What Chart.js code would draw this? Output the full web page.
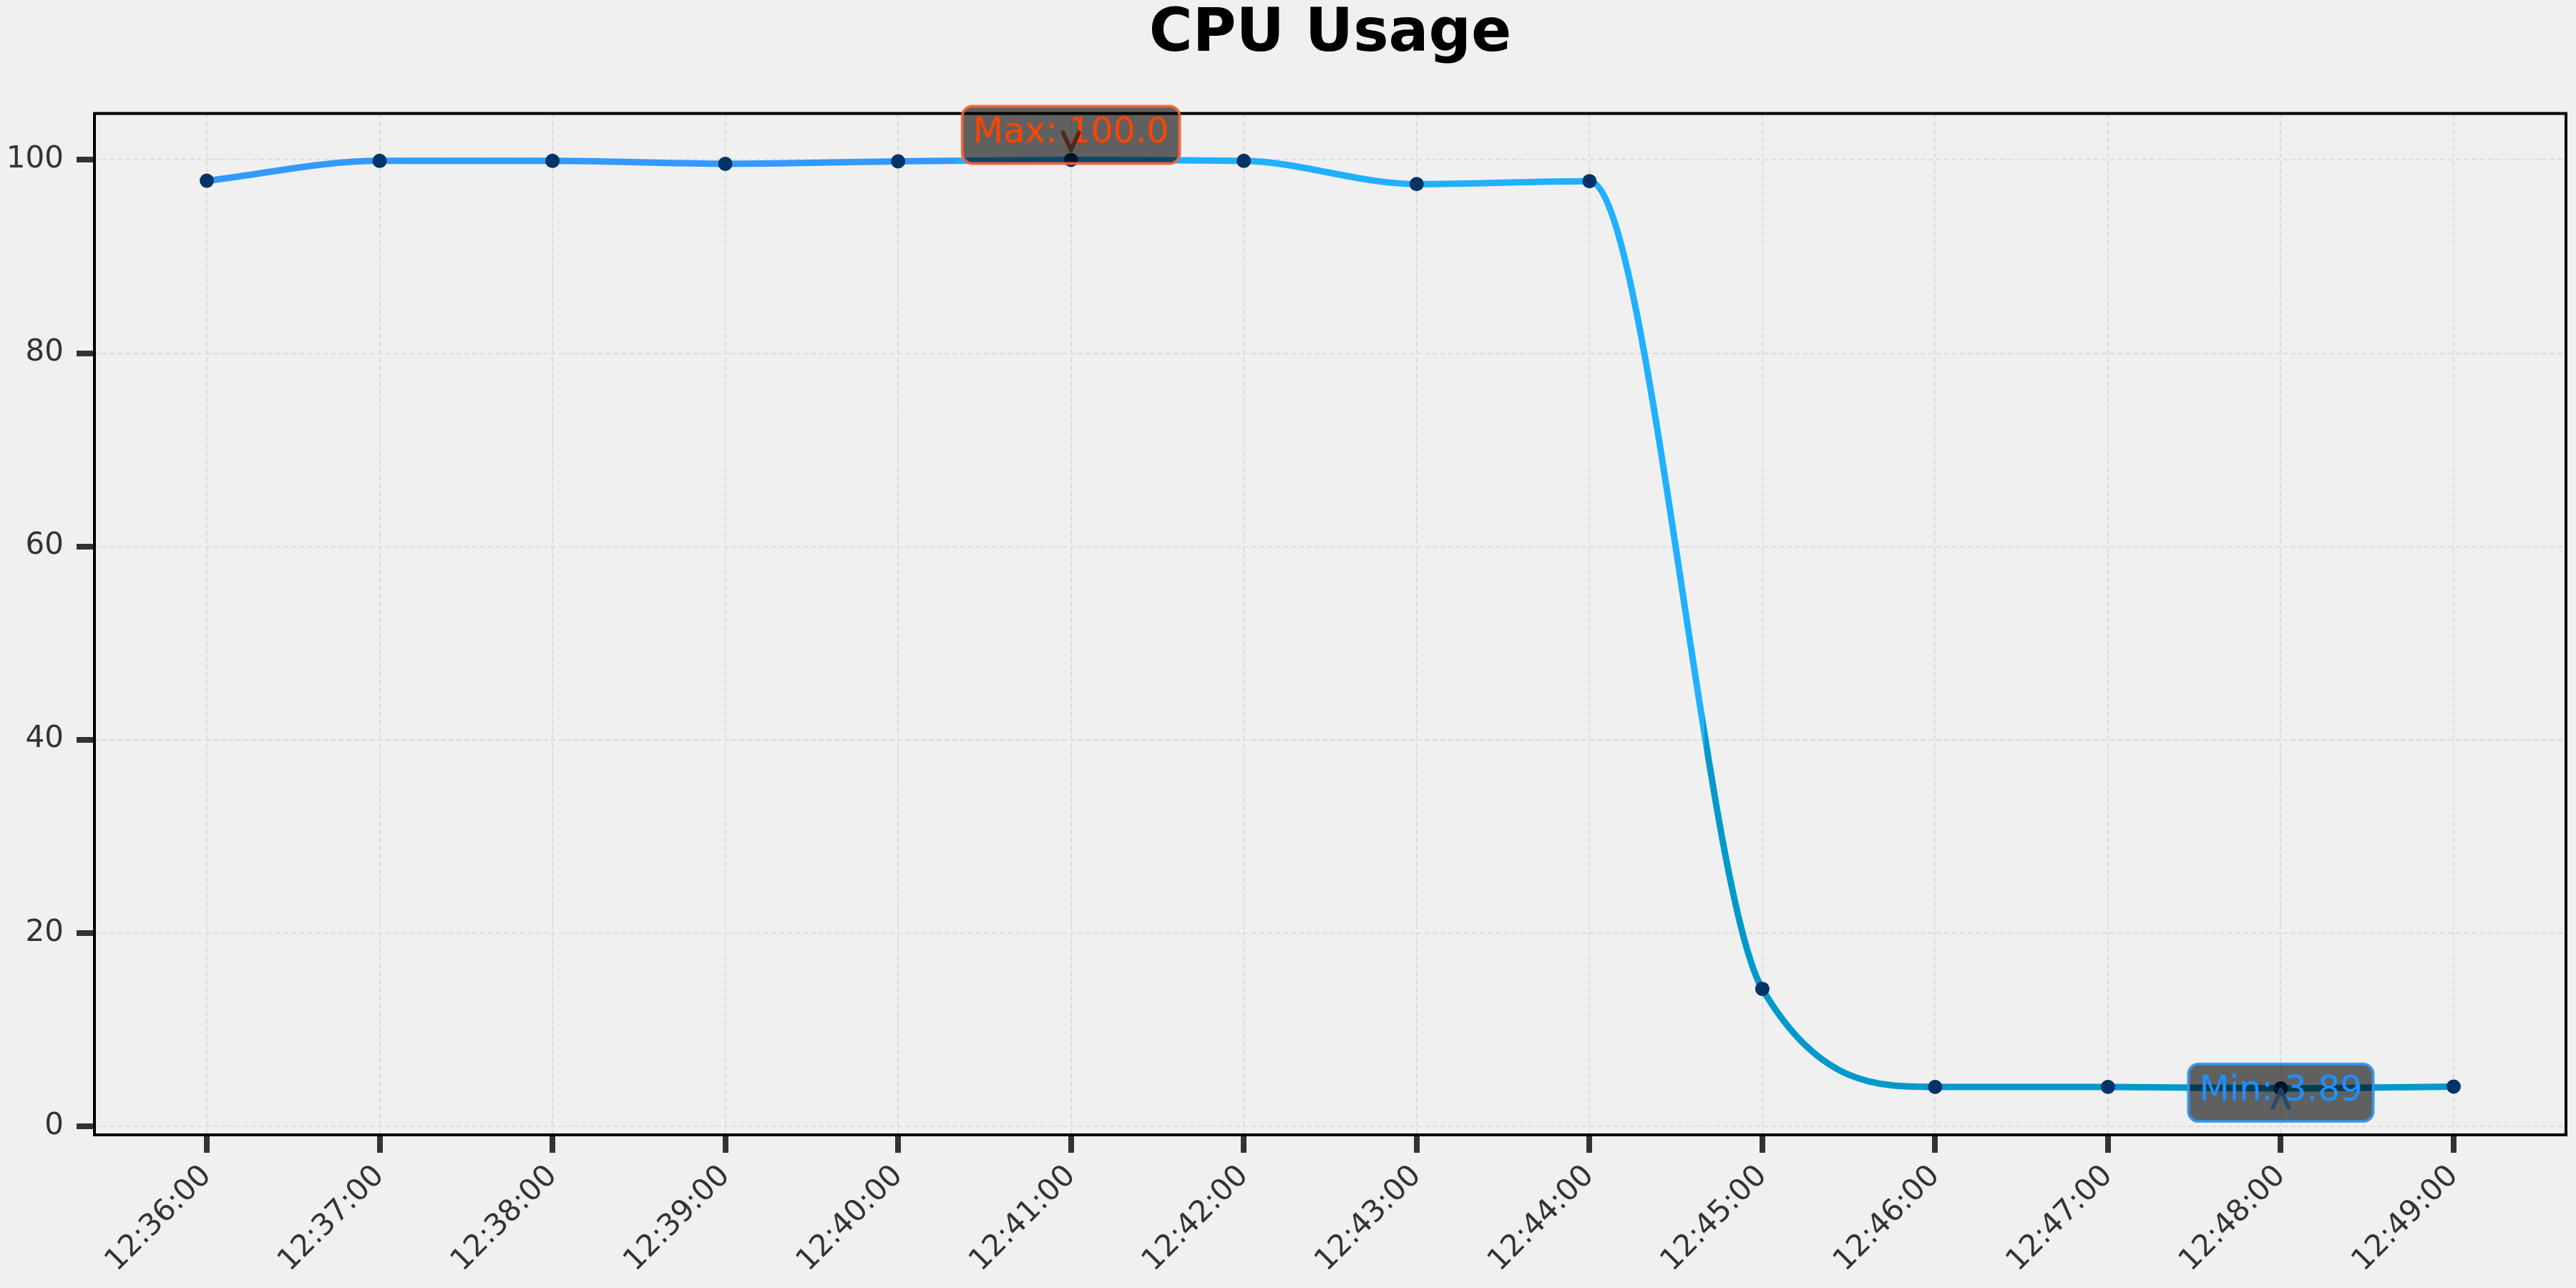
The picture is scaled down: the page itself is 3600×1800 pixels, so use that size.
<!DOCTYPE html>
<html>
<head>
<meta charset="utf-8">
<script src="https://cdn.jsdelivr.net/npm/chart.js@4.4.0/dist/chart.umd.min.js"></script>
<style>
  html, body { margin: 0; padding: 0; background: #f0f0f0; }
  canvas { display: block; }
</style>
</head>
<body>
<canvas id="cpu" width="3600" height="1800"></canvas>
<script>
const timeLabels = ['12:36:00', '12:37:00', '12:38:00', '12:39:00', '12:40:00', '12:41:00', '12:42:00',
                    '12:43:00', '12:44:00', '12:45:00', '12:46:00', '12:47:00', '12:48:00', '12:49:00'];
const cpuValues = [97.85, 99.9, 99.9, 99.6, 99.85, 100.0, 99.9, 97.5, 97.8, 14.2, 4.05, 4.05, 3.89, 4.08];
const yTicks = [0, 20, 40, 60, 80, 100];
const segmentColors = ['#3399ff', '#1fb0ff', '#0099cc'];

const lo = Math.min(...cpuValues), hi = Math.max(...cpuValues);
const yPad = (hi - lo) * 0.05;
const xPad = (cpuValues.length - 1) * 0.05;

// line colour changes at each third of the time range
function lineGradient(context) {
  const {ctx, chartArea, scales} = context.chart;
  if (!chartArea) return segmentColors[0];
  const left = chartArea.left, w = chartArea.right - chartArea.left;
  const n = cpuValues.length - 1;
  const b1 = (scales.x.getPixelForValue(n / 3) - left) / w;
  const b2 = (scales.x.getPixelForValue(2 * n / 3) - left) / w;
  const g = ctx.createLinearGradient(chartArea.left, 0, chartArea.right, 0);
  g.addColorStop(0, segmentColors[0]);
  g.addColorStop(b1, segmentColors[0]);
  g.addColorStop(b1, segmentColors[1]);
  g.addColorStop(b2, segmentColors[1]);
  g.addColorStop(b2, segmentColors[2]);
  g.addColorStop(1, segmentColors[2]);
  return g;
}

function fmt(v) {
  return Number.isInteger(v) ? v.toFixed(1) : String(v);
}

function drawTag(ctx, px, py, text, textColor, edgeColor, boxDy, arrowColor, arrowUp) {
  ctx.save();
  ctx.font = '49px "DejaVu Sans"';
  const tw = ctx.measureText(text).width;
  const pad = 15;
  const cy = py + boxDy;
  const w = tw + pad * 2, h = 80;
  ctx.beginPath();
  ctx.roundRect(px - w / 2, cy - h / 2, w, h, 14);
  ctx.fillStyle = 'rgba(0,0,0,0.6)';
  ctx.fill();
  ctx.lineWidth = 4;
  ctx.strokeStyle = edgeColor;
  ctx.stroke();
  ctx.fillStyle = textColor;
  ctx.textAlign = 'center';
  ctx.textBaseline = 'middle';
  ctx.fillText(text, px, cy - 2);
  // small arrow head pointing at the data point
  ctx.beginPath();
  ctx.lineWidth = 6;
  ctx.lineCap = 'round';
  ctx.lineJoin = 'round';
  ctx.strokeStyle = arrowColor;
  if (arrowUp) {
    ctx.moveTo(px - 11, py + 27);
    ctx.lineTo(px, py + 2);
    ctx.lineTo(px + 11, py + 27);
  } else {
    ctx.moveTo(px - 11, py - 38);
    ctx.lineTo(px, py - 14);
    ctx.lineTo(px + 11, py - 38);
  }
  ctx.stroke();
  ctx.restore();
}

const framePlugin = {
  id: 'frame',
  beforeDraw(chart) {
    const c = chart.ctx;
    c.save();
    c.fillStyle = '#f0f0f0';
    c.fillRect(0, 0, chart.width, chart.height);
    c.restore();
  },
  afterDatasetsDraw(chart) {
    const {ctx, chartArea: a, scales} = chart;
    ctx.save();
    ctx.strokeStyle = '#000000';
    ctx.lineWidth = 4;
    ctx.strokeRect(a.left, a.top, a.width, a.height);
    ctx.restore();

    const iMax = cpuValues.indexOf(hi), iMin = cpuValues.indexOf(lo);
    drawTag(ctx, scales.x.getPixelForValue(iMax), scales.y.getPixelForValue(hi),
      'Max: ' + fmt(hi), '#ff4500', 'rgba(240,100,50,0.9)', -35, 'rgba(70,30,15,0.8)', false);
    drawTag(ctx, scales.x.getPixelForValue(iMin), scales.y.getPixelForValue(lo),
      'Min: ' + fmt(lo), '#1e90ff', 'rgba(50,145,240,0.9)', 6, 'rgba(35,70,105,0.85)', true);
  }
};

Chart.defaults.font.family = '"DejaVu Sans"';

new Chart(document.getElementById('cpu').getContext('2d'), {
  type: 'line',
  data: {
    datasets: [{
      label: 'CPU Usage',
      data: cpuValues.map((v, i) => ({x: i, y: v})),
      borderColor: lineGradient,
      borderWidth: 9,
      cubicInterpolationMode: 'monotone',
      pointRadius: 10,
      pointBorderWidth: 0,
      pointBackgroundColor: '#003366',
      fill: false
    }]
  },
  options: {
    responsive: false,
    animation: false,
    devicePixelRatio: 1,
    layout: { padding: { left: 0, right: 14, top: 0, bottom: 0 } },
    plugins: {
      legend: { display: false },
      tooltip: { enabled: false },
      title: {
        display: true,
        fullSize: false,
        text: 'CPU Usage',
        color: '#000000',
        font: { size: 83, weight: 'bold' },
        padding: { top: 0, bottom: 59 }
      }
    },
    scales: {
      x: {
        type: 'linear',
        min: -xPad,
        max: cpuValues.length - 1 + xPad,
        afterBuildTicks: s => { s.ticks = timeLabels.map((_, i) => ({value: i})); },
        afterFit: s => { s.height = 214; },
        grid: { color: '#dcdcdc', lineWidth: 2, tickColor: '#333333', tickWidth: 8, tickLength: 25 },
        border: { display: false, dash: [7, 4] },
        ticks: {
          autoSkip: false,
          maxRotation: 45,
          minRotation: 45,
          padding: 8,
          color: '#333333',
          font: { size: 42 },
          callback: v => timeLabels[v]
        }
      },
      y: {
        type: 'linear',
        min: lo - yPad,
        max: hi + yPad,
        afterBuildTicks: s => { s.ticks = yTicks.map(v => ({value: v})); },
        afterFit: s => { s.width = 132; },
        grid: { color: '#dcdcdc', lineWidth: 2, tickColor: '#333333', tickWidth: 8, tickLength: 25 },
        border: { display: false, dash: [7, 4] },
        ticks: {
          padding: 18,
          color: '#333333',
          font: { size: 42 },
          callback: v => String(v)
        }
      }
    }
  },
  plugins: [framePlugin]
});
</script>
</body>
</html>
